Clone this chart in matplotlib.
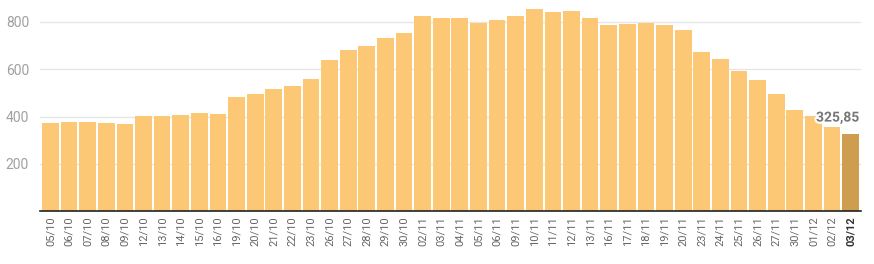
import matplotlib
matplotlib.use('Agg')
import matplotlib.pyplot as plt
import matplotlib.patheffects as pe

plt.rcParams['font.family'] = ['Roboto', 'DejaVu Sans']

dates = ['05/10', '06/10', '07/10', '08/10', '09/10', '12/10', '13/10', '14/10', '15/10', '16/10',
         '19/10', '20/10', '21/10', '22/10', '23/10', '26/10', '27/10', '28/10', '29/10', '30/10',
         '02/11', '03/11', '04/11', '05/11', '06/11', '09/11', '10/11', '11/11', '12/11', '13/11',
         '16/11', '17/11', '18/11', '19/11', '20/11', '23/11', '24/11', '25/11', '26/11', '27/11',
         '30/11', '01/12', '02/12', '03/12']
values = [374, 378, 378, 374, 370, 404, 404, 408, 417, 413,
          484, 497, 518, 531, 560, 641, 683, 700, 734, 755,
          827, 818, 818, 797, 810, 827, 857, 844, 848, 818,
          789, 793, 797, 789, 768, 675, 645, 594, 556, 497,
          429, 404, 357, 325.85]
yticks = [200, 400, 600, 800]

fig = plt.figure(figsize=(8.74, 2.64), dpi=100)
ax = fig.add_axes([0.046, 0.2, 0.939, 0.8])

x = list(range(len(values)))
colors = ['#fdc875'] * (len(values) - 1) + ['#cf9d50']
ax.bar(x, values, width=0.9, color=colors, zorder=2)

ax.set_xlim(-0.55, len(values) - 0.45)
ax.set_ylim(0, 893)
ax.set_yticks(yticks)
ax.set_yticklabels([str(v) for v in yticks], color='#a0a0a0', fontsize=10)
ax.yaxis.grid(True, color='#e6e6e6', linewidth=1, zorder=0)
ax.set_axisbelow(True)

ax.set_xticks(x)
ax.set_xticklabels(dates, rotation=90, fontsize=8, color='#666666')
ax.get_xticklabels()[-1].set_fontweight('bold')
ax.get_xticklabels()[-1].set_color('#333333')

ax.tick_params(axis='both', length=0)
ax.tick_params(axis='x', pad=4)
ax.tick_params(axis='y', pad=8)
for s in ['top', 'right', 'left']:
    ax.spines[s].set_visible(False)
ax.spines['bottom'].set_color('#222222')
ax.spines['bottom'].set_linewidth(1.2)

last = len(values) - 1
label = f'{values[last]:.2f}'.replace('.', ',')
ax.text(last + 0.45, values[last] + 70, label, ha='right', va='center',
        fontsize=10, fontweight='bold', color='#777777', zorder=3,
        path_effects=[pe.withStroke(linewidth=3, foreground='white')])

fig.savefig('out.png', dpi=100)
